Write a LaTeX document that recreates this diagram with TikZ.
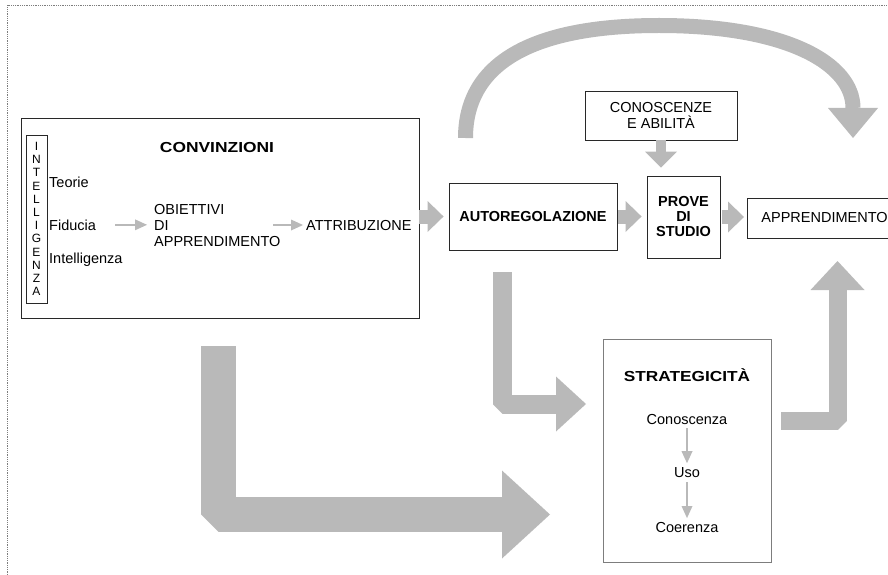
\documentclass[tikz,border=0pt]{standalone}
\usepackage{fontspec}
\setmainfont{Liberation Sans}
\usepackage{graphicx}
\usetikzlibrary{arrows.meta,calc}
\definecolor{agray}{RGB}{185,185,185}
\definecolor{lgray}{RGB}{125,125,125}
\definecolor{boxline}{RGB}{40,40,40}
\begin{document}
\begin{tikzpicture}[x=1pt,y=-1pt,
  every node/.style={font=\fontsize{14.5}{16}\selectfont},
  box/.style={draw=boxline, line width=0.9pt, inner sep=0pt, align=center},
  txt/.style={inner sep=0pt, align=left},
  hdr/.style={inner sep=0pt, font=\fontsize{14.5}{16}\selectfont\bfseries},
  boldbox/.style={box, font=\fontsize{14.5}{15}\selectfont\bfseries},
  smallarrow/.style={draw=agray, line width=2.6pt, -{Triangle[width=11pt,length=12pt,line width=0pt]}},
  blockh/.style={draw=agray, line width=14pt, -{Triangle[width=31pt,length=16pt,line width=0pt]}},
  blockv/.style={draw=agray, line width=10pt, -{Triangle[width=32pt,length=16pt,line width=0pt]}},
  bigL/.style={draw=agray, line join=bevel},
]
\useasboundingbox (0,0) rectangle (888,575);
% frame
\draw[lgray, densely dotted, line width=0.8pt] (7,575) -- (7,5) -- (888,5);

% CONVINZIONI block
\node[box, minimum width=398pt, minimum height=200pt] (conv) at (220,218) {};
\node[box, minimum width=21pt, minimum height=168pt, font=\fontsize{12}{13.2}\selectfont] (intel) at (36.5,219) {I\\N\\T\\E\\L\\L\\I\\G\\E\\N\\Z\\A};
\node[hdr, anchor=base] (convt) at (217,152) {\scalebox{1.2}[1]{CONVINZIONI}};
\node[txt, anchor=base west] (teo) at (49,187) {Teorie};
\node[txt, anchor=base west] (fid) at (49,230) {Fiducia};
\node[txt, anchor=base west] (int) at (49,263) {Intelligenza};
\node[txt, anchor=west] (obj) at (154,225.8) {OBIETTIVI\\DI\\APPRENDIMENTO};
\node[txt, anchor=base west] (att) at (306,230) {ATTRIBUZIONE};
\coordinate (objout) at (273,225);
\draw[smallarrow, shorten <=19pt, shorten >=7pt] (fid.east) -- (fid.east -| obj.west);
\draw[smallarrow, shorten >=3pt] (objout) -- (objout -| att.west);

% main row
\node[boldbox, minimum width=168pt, minimum height=67pt] (auto) at (533,216.5) {AUTOREGOLAZIONE};
\node[boldbox, minimum width=73pt, minimum height=82pt] (prove) at (683.5,217) {PROVE\\DI\\STUDIO};
\node[box, minimum width=152pt, minimum height=49pt] (cono) at (661,115.5) {CONOSCENZE\\E ABILITÀ};
\node[box, anchor=west, minimum height=40pt, inner xsep=14pt] (appr) at (747,218) {APPRENDIMENTO};

\draw[blockh, shorten >=5pt] (conv.east |- auto.west) -- (auto.west);
\draw[blockh, shorten <=1pt, shorten >=5pt] (auto.east) -- (auto.east -| prove.west);
\draw[blockh, shorten <=2pt, shorten >=3pt] (prove.east) -- (prove.east -| appr.west);
\draw[blockv, shorten >=8pt] (cono.south) -- (cono.south |- prove.north);

% STRATEGICITA block
\node[box, draw=lgray, minimum width=168pt, minimum height=223pt] (strat) at (687,450.5) {};
\node[hdr, anchor=base] (stratt) at (687,381) {\scalebox{1.19}[1]{STRATEGICITÀ}};
\node[txt, anchor=base] (sk) at (687,424) {Conoscenza};
\node[txt, anchor=base] (su) at (687,477) {Uso};
\node[txt, anchor=base] (sc) at (687,532) {Coerenza};
\draw[smallarrow, shorten <=4pt, shorten >=3.6pt] (sk.south) -- (su.north);
\draw[smallarrow, shorten <=5pt, shorten >=3.6pt] (su.south) -- (sc.north);

% L-shaped block arrows
\coordinate (b1) at (218.5,346);
\coordinate (b2) at (218.5,514.5);
\coordinate (b3) at (550,514.5);
\draw[bigL, line width=35pt, -{Triangle[width=88pt,length=48pt,line width=0pt]}] (b1) -- (b2) -- (b3);

\coordinate (m1) at (502.5,272);
\coordinate (m2) at (502.5,404);
\coordinate (m3) at (586,404);
\draw[bigL, line width=19pt, -{Triangle[width=55pt,length=30pt,line width=0pt]}] (m1) -- (m2) -- (m3);

\coordinate (r1) at (781,420.5);
\coordinate (r2) at (837.5,420.5);
\coordinate (r3) at (837.5,261);
\draw[bigL, line width=18pt, -{Triangle[width=54pt,length=29pt,line width=0pt]}] (r1) -- (r2) -- (r3);

% top curved arrow
\coordinate (t0) at (465.5,138);
\coordinate (t1) at (659,25.5);
\coordinate (t2) at (853,138);
\draw[draw=agray, line width=15pt, -{Triangle[width=50pt,length=30pt,line width=0pt]}]
  (t0) .. controls (465.5,63.8) and (531,25.5) .. (t1)
       .. controls (787,25.5) and (853,63.8) .. (t2);
\end{tikzpicture}
\end{document}
